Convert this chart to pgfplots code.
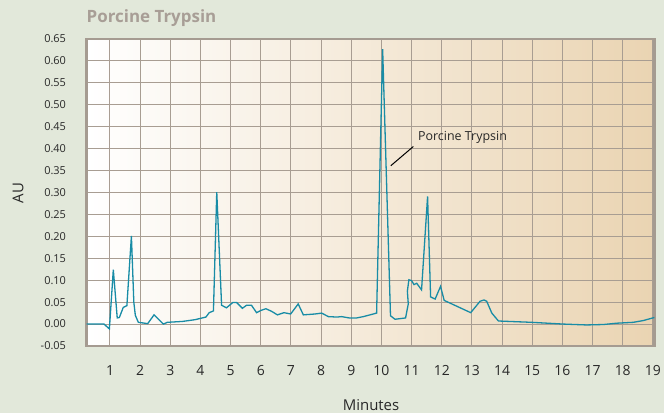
\documentclass[border=0pt]{standalone}
\usepackage{fontspec}
\setmainfont{Open Sans}
\usepackage{pgfplots}
\pgfplotsset{compat=1.18}
\definecolor{bgc}{RGB}{226,232,218}
\definecolor{tanr}{RGB}{234,212,178}
\definecolor{gridc}{RGB}{168,157,146}
\definecolor{framec}{RGB}{165,155,145}
\definecolor{linec}{RGB}{24,140,166}
\definecolor{titlec}{RGB}{168,158,150}
\definecolor{txt}{RGB}{40,40,40}
\begin{document}
\begin{tikzpicture}[x=1bp,y=1bp]
\fill[bgc] (0,0) rectangle (664,413);
\useasboundingbox (0,0) rectangle (664,413);
\begin{axis}[
  at={(86.5bp,67bp)}, anchor=south west,
  scale only axis, width=568bp, height=307bp,
  xmin=0.221, xmax=19.054, ymin=-0.05, ymax=0.65,
  xtick={1,2,3,4,5,6,7,8,9,10,11,12,13,14,15,16,17,18,19},
  xticklabels={1,2,3,4,5,6,7,8,9,10,11,12,13,14,15,16,17,18,19},
  ytick={-0.05,0,0.05,0.1,0.15,0.2,0.25,0.3,0.35,0.4,0.45,0.5,0.55,0.6,0.65},
  yticklabels={-0.05,0.00,0.05,0.10,0.15,0.20,0.25,0.30,0.35,0.40,0.45,0.50,0.55,0.60,0.65},
  major tick length=0pt,
  tick style={draw=none},
  grid=major,
  major grid style={color=gridc, line width=1bp},
  axis line style={color=framec, line width=2.5bp},
  axis background/.style={left color=white, right color=tanr},
  yticklabel style={font=\fontsize{11}{11}\selectfont, color=txt, xshift=-17bp},
  xticklabel style={font=\fontsize{14}{14}\selectfont, color=txt, yshift=-16bp},
  clip=true,
]
\addplot[color=linec, line width=1.3bp, mark=none] table {
x y
0.22 0.000
0.80 0.000
0.98 -0.011
1.11 0.124
1.24 0.014
1.31 0.015
1.44 0.038
1.56 0.042
1.71 0.201
1.79 0.050
1.84 0.020
1.94 0.004
2.25 0.001
2.46 0.021
2.77 0.000
2.90 0.004
3.40 0.006
3.82 0.010
4.18 0.016
4.29 0.026
4.43 0.030
4.54 0.301
4.70 0.043
4.86 0.037
5.07 0.049
5.20 0.049
5.39 0.036
5.53 0.043
5.69 0.043
5.86 0.026
6.00 0.031
6.17 0.035
6.36 0.029
6.55 0.021
6.77 0.026
6.99 0.023
7.24 0.046
7.41 0.021
7.80 0.023
8.02 0.025
8.24 0.017
8.52 0.016
8.68 0.017
8.93 0.014
9.18 0.014
9.40 0.017
9.84 0.025
10.04 0.627
10.30 0.019
10.45 0.011
10.80 0.014
10.89 0.046
10.86 0.075
10.91 0.101
11.00 0.099
11.08 0.090
11.17 0.093
11.33 0.078
11.53 0.291
11.63 0.062
11.78 0.057
11.96 0.086
12.08 0.054
12.96 0.026
13.27 0.052
13.40 0.055
13.49 0.052
13.66 0.025
13.88 0.007
14.98 0.004
16.03 0.000
16.80 -0.002
17.36 -0.001
17.80 0.002
18.35 0.004
18.68 0.008
19.05 0.015
};
\draw[black, line width=1bp] (axis cs:10.31,0.361) -- (axis cs:11.06,0.405);
\node[anchor=west, inner sep=0pt, font=\fontsize{12.5}{12.5}\selectfont, text=txt] at (axis cs:11.21,0.425) {Porcine Trypsin};
\end{axis}
\node[anchor=base west, inner sep=0pt, font=\bfseries\fontsize{17}{17}\selectfont, text=titlec] at (86.5,390.3) {Porcine Trypsin};
\node[anchor=base, inner sep=0pt, font=\fontsize{15}{15}\selectfont, text=txt] at (371,3) {Minutes};
\node[rotate=90, anchor=center, inner sep=0pt, font=\fontsize{15}{15}\selectfont, text=txt] at (18,220) {AU};
\end{tikzpicture}
\end{document}
